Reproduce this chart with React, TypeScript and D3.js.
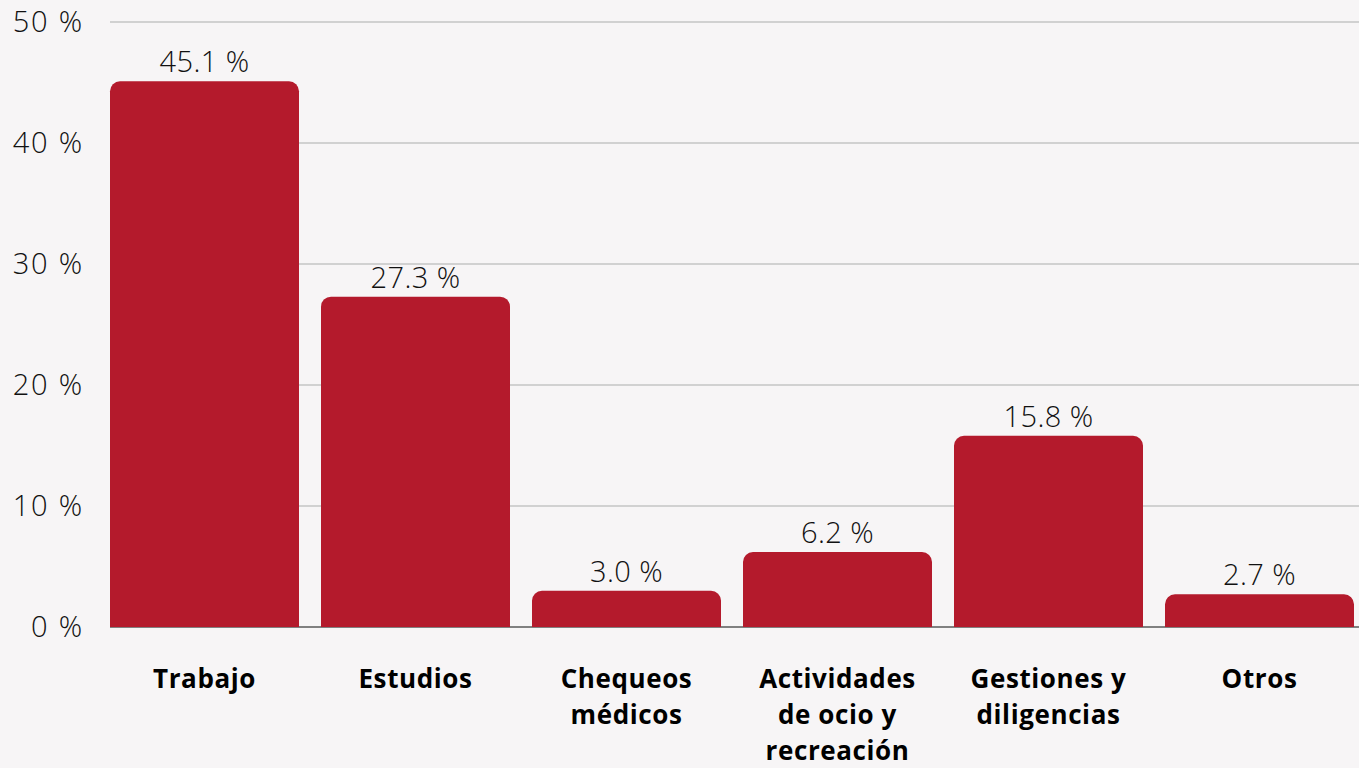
import React from "react";
import * as d3 from "d3";

const categories: string[][] = [
  ["Trabajo"],
  ["Estudios"],
  ["Chequeos", "médicos"],
  ["Actividades", "de ocio y", "recreación"],
  ["Gestiones y", "diligencias"],
  ["Otros"],
];
const values: number[] = [45.1, 27.3, 3.0, 6.2, 15.8, 2.7];
const yTicks: number[] = [0, 10, 20, 30, 40, 50];

const W = 1359;
const H = 768;
const FONT = "'Open Sans', sans-serif";

export default function App() {
  const x = d3
    .scaleBand<number>()
    .domain(values.map((_, i) => i))
    .range([110, 1354])
    .paddingInner(22 / 211)
    .paddingOuter(0);
  const y = d3.scaleLinear().domain([0, 50]).range([627, 22]);
  const r = 10;

  const barPath = (i: number) => {
    const x0 = x(i)!;
    const bw = x.bandwidth();
    const top = y(values[i]);
    const bottom = y(0);
    const rr = Math.min(r, (bottom - top) / 2);
    const p = d3.path();
    p.moveTo(x0, bottom);
    p.lineTo(x0, top + rr);
    p.arcTo(x0, top, x0 + rr, top, rr);
    p.lineTo(x0 + bw - rr, top);
    p.arcTo(x0 + bw, top, x0 + bw, top + rr, rr);
    p.lineTo(x0 + bw, bottom);
    p.closePath();
    return p.toString();
  };

  return (
    <div style={{ position: "fixed", left: 0, top: 0, width: W, height: H }}>
      <svg width={W} height={H} style={{ display: "block" }}>
        <rect x={0} y={0} width={W} height={H} fill="#f7f5f6" />
        {yTicks.map((t) => (
          <g key={t}>
            {t !== 0 && (
              <line x1={110} x2={W} y1={y(t)} y2={y(t)} stroke="#c4c4c4" strokeWidth={1.5} />
            )}
            <text
              x={84}
              y={y(t)}
              dy="0.36em"
              textAnchor="end"
              fontFamily={FONT}
              fontWeight={300}
              fontSize={29}
              letterSpacing={1.8}
              fill="#111"
            >
              {`${t} %`}
            </text>
          </g>
        ))}
        <line x1={110} x2={W} y1={y(0)} y2={y(0)} stroke="#808080" strokeWidth={2} />
        {values.map((v, i) => (
          <g key={i}>
            <path d={barPath(i)} fill="#b41a2c" />
            <text
              x={x(i)! + x.bandwidth() / 2}
              y={y(v) - 9}
              textAnchor="middle"
              fontFamily={FONT}
              fontWeight={300}
              fontSize={29}
              letterSpacing={0.4}
              fill="#111"
            >
              {`${v.toFixed(1)} %`}
            </text>
            <text
              x={x(i)! + x.bandwidth() / 2}
              y={688}
              textAnchor="middle"
              fontFamily={FONT}
              fontWeight={700}
              fontSize={26}
              letterSpacing={0.6}
              fill="#000"
            >
              {categories[i].map((line, j) => (
                <tspan key={j} x={x(i)! + x.bandwidth() / 2} dy={j === 0 ? 0 : 36}>
                  {line}
                </tspan>
              ))}
            </text>
          </g>
        ))}
      </svg>
    </div>
  );
}
